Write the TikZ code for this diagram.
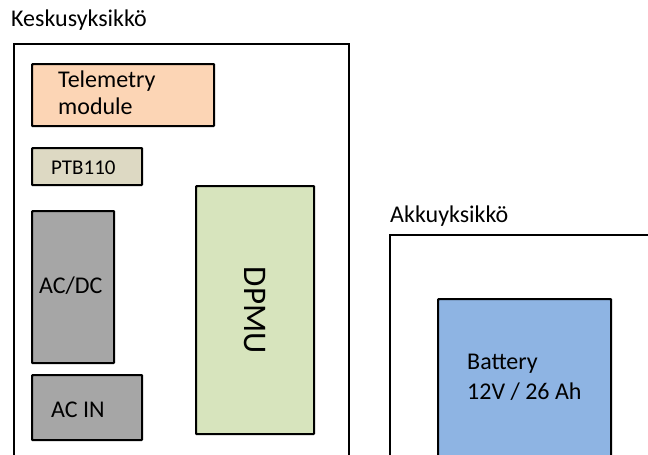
\documentclass[tikz,border=0pt]{standalone}
\usepackage{fontspec}
\setmainfont{Carlito}
\usetikzlibrary{positioning}
\definecolor{telecol}{HTML}{FCD5B5}
\definecolor{ptbcol}{HTML}{DDD9C3}
\definecolor{powcol}{HTML}{A6A6A6}
\definecolor{dpmucol}{HTML}{D7E4BD}
\definecolor{battcol}{HTML}{8EB4E3}
\tikzset{
  unitframe/.style={draw=black,line width=2.4pt},
  partbox/.style={draw=black,line width=2.2pt,rectangle,inner sep=0pt,anchor=north west,rounded corners=0.8pt},
  lbl/.style={font=\fontsize{24}{26}\selectfont,inner sep=0pt,anchor=base west},
}
\begin{document}
\begin{tikzpicture}[x=1pt,y=-1pt]
  \useasboundingbox (0,0) rectangle (648,455);
  \clip (0,0) rectangle (648,455);
  % Keskusyksikkoe (central unit)
  \node[lbl] (kesklbl) at (11,27) {Keskusyksikkö};
  \draw[unitframe] (14,470) -- (14,44) -- (349,44) -- (349,470);
  \node[partbox,fill=telecol,minimum width=182pt,minimum height=62pt] (tele) at (31,63) {};
  \node[lbl,font=\fontsize{24}{27}\selectfont,align=left,anchor=north west] (telelbl) at (58,71) {Telemetry\\module};
  \node[partbox,fill=ptbcol,minimum width=110pt,minimum height=37pt] (ptb) at (31,147) {};
  \node[lbl,font=\fontsize{21}{24}\selectfont] (ptblbl) at (51,174) {PTB110};
  \node[partbox,fill=powcol,minimum width=82pt,minimum height=152pt] (acdc) at (31,210) {};
  \node[lbl] (acdclbl) at (39,293) {AC/DC};
  \node[partbox,fill=powcol,minimum width=110pt,minimum height=65pt] (acin) at (31,374) {};
  \node[lbl] (acinlbl) at (51,417) {AC IN};
  \node[partbox,fill=dpmucol,minimum width=118pt,minimum height=248pt] (dpmu) at (195,185) {};
  \node[font=\fontsize{33}{40}\selectfont,rotate=-90,inner sep=0pt] (dpmulbl) at (dpmu.center) {DPMU};
  % Akkuyksikkoe (battery unit)
  \node[lbl] (akkulbl) at (390,222) {Akkuyksikkö};
  \draw[unitframe] (390,470) -- (390,235) -- (660,235);
  \node[partbox,fill=battcol,minimum width=173pt,minimum height=180pt] (batt) at (437,298) {};
  \node[lbl,font=\fontsize{24}{30}\selectfont,align=left,anchor=north west] (battlbl) at (467,354) {Battery\\12V / 26 Ah};
\end{tikzpicture}
\end{document}
